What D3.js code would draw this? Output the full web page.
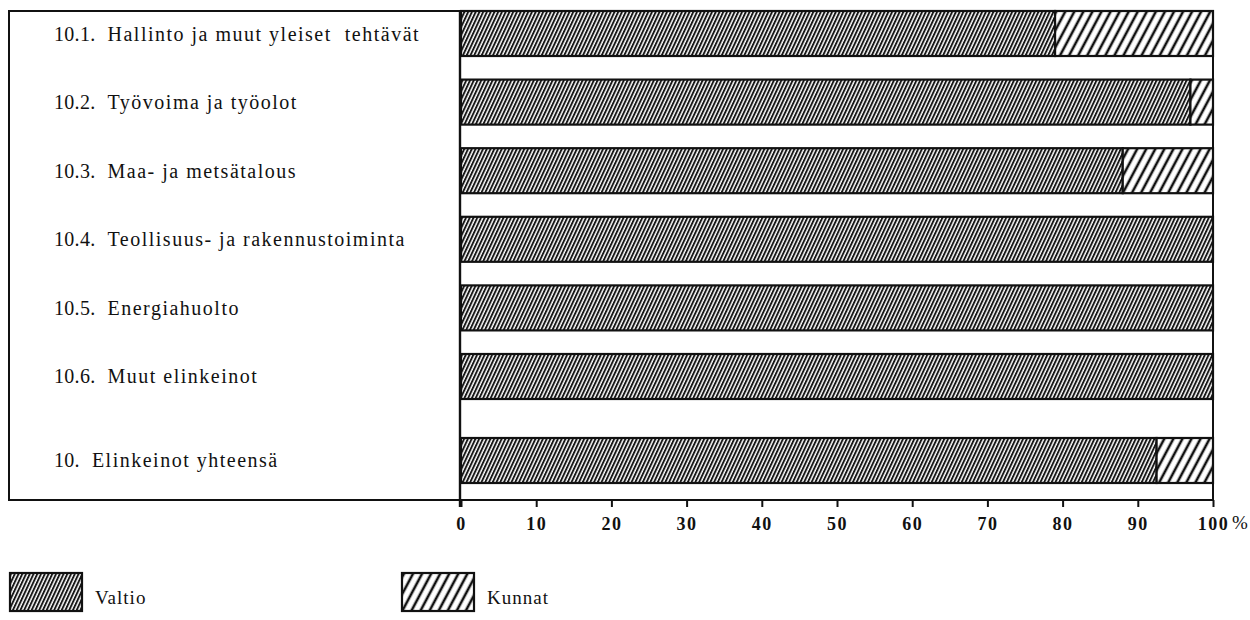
<!DOCTYPE html>
<html>
<head>
<meta charset="utf-8">
<script src="https://cdn.jsdelivr.net/npm/d3@7"></script>
<style>
  html, body { margin: 0; padding: 0; background: #fff; }
  svg { display: block; }
  text { font-family: "Liberation Serif", "Times New Roman", serif; fill: #111; }
</style>
</head>
<body>
<svg id="chart" width="1250" height="620"></svg>
<script>
// ---- data ----
const categories = [
  "10.1.  Hallinto ja muut yleiset  tehtävät",
  "10.2.  Työvoima ja työolot",
  "10.3.  Maa- ja metsätalous",
  "10.4.  Teollisuus- ja rakennustoiminta",
  "10.5.  Energiahuolto",
  "10.6.  Muut elinkeinot",
  "10.  Elinkeinot yhteensä"
];
const valtio = [79, 97, 88, 100, 100, 100, 92.5];
const kunnat = [21, 3, 12, 0, 0, 0, 7.5];
const seriesNames = ["Valtio", "Kunnat"];
const tickValues = [0, 10, 20, 30, 40, 50, 60, 70, 80, 90, 100];
const unitLabel = "%";

// ---- layout ----
const svg = d3.select("#chart");
const frame = { left: 9, top: 11, right: 1213, bottom: 500 };
const x = d3.scaleLinear().domain([0, 100]).range([461, 1213]);
const y = d3.scaleBand().domain(categories).range([11, 467.6]).paddingInner(0.344).paddingOuter(0);
const totalShift = 15.4;
const yPos = (c, i) => y(c) + (i === categories.length - 1 ? totalShift : 0);

// patterns
const defs = svg.append("defs");
const pV = defs.append("pattern").attr("id", "hatchValtio")
  .attr("patternUnits", "userSpaceOnUse").attr("width", 3.4).attr("height", 10)
  .attr("patternTransform", "rotate(25)");
pV.append("rect").attr("width", 3.4).attr("height", 10).attr("fill", "#fff");
pV.append("line").attr("x1", 1).attr("x2", 1).attr("y1", 0).attr("y2", 10)
  .attr("stroke", "#111").attr("stroke-width", 1.9);

const pK = defs.append("pattern").attr("id", "hatchKunnat")
  .attr("patternUnits", "userSpaceOnUse").attr("width", 8).attr("height", 10)
  .attr("patternTransform", "rotate(28)");
pK.append("rect").attr("width", 8).attr("height", 10).attr("fill", "#fff");
pK.append("line").attr("x1", 2).attr("x2", 2).attr("y1", 0).attr("y2", 10)
  .attr("stroke", "#111").attr("stroke-width", 2.6);

const fills = ["url(#hatchValtio)", "url(#hatchKunnat)"];

// frame
svg.append("rect")
  .attr("x", frame.left).attr("y", frame.top)
  .attr("width", frame.right - frame.left).attr("height", frame.bottom - frame.top)
  .attr("fill", "none").attr("stroke", "#111").attr("stroke-width", 2);

// bars
const rows = categories.map((c, i) => ({ c, i, v: valtio[i], k: kunnat[i] }));
const g = svg.append("g");
rows.forEach(r => {
  const top = yPos(r.c, r.i);
  const h = y.bandwidth();
  g.append("rect")
    .attr("x", x(0)).attr("y", top)
    .attr("width", x(r.v) - x(0)).attr("height", h)
    .attr("fill", fills[0]).attr("stroke", "#111").attr("stroke-width", 2.2);
  if (r.k > 0) {
    g.append("rect")
      .attr("x", x(r.v)).attr("y", top)
      .attr("width", x(r.v + r.k) - x(r.v)).attr("height", h)
      .attr("fill", fills[1]).attr("stroke", "#111").attr("stroke-width", 2.2);
  }
  // label: number prefix + name
  const m = r.c.match(/^(\S+)\s+(.*)$/);
  const pre = g.append("text")
    .attr("x", 54).attr("y", top + h / 2).attr("dy", "0.35em")
    .style("font-size", "20px").style("letter-spacing", "0.3px")
    .text(m[1]);
  const preEnd = 54 + pre.node().getComputedTextLength();
  g.append("text")
    .attr("x", preEnd + 12).attr("y", top + h / 2).attr("dy", "0.35em")
    .attr("xml:space", "preserve")
    .style("white-space", "pre")
    .style("font-size", "20px")
    .style("letter-spacing", "1.5px")
    .text(m[2]);
});

// zero axis vertical line
svg.append("line")
  .attr("x1", x(0) - 1).attr("x2", x(0) - 1)
  .attr("y1", frame.top).attr("y2", frame.bottom + 7)
  .attr("stroke", "#111").attr("stroke-width", 2.4);

// x axis
const axis = d3.axisBottom(x).tickValues(tickValues).tickSize(7).tickPadding(10)
  .tickFormat(d3.format("d"));
const ax = svg.append("g").attr("transform", `translate(0,${frame.bottom})`).call(axis);
ax.select(".domain").remove();
ax.selectAll(".tick line").attr("stroke", "#111").attr("stroke-width", 2);
ax.selectAll(".tick text")
  .style("font-family", "'Liberation Serif', serif")
  .style("font-size", "18px")
  .style("font-weight", "bold")
  .style("letter-spacing", "1.5px")
  .attr("fill", "#111");
svg.append("text")
  .attr("x", x(100) + 19).attr("y", frame.bottom + 16).attr("dy", "0.71em")
  .style("font-size", "19px")
  .text(unitLabel);

// legend
const legendX = [10, 402];
seriesNames.forEach((name, i) => {
  svg.append("rect")
    .attr("x", legendX[i]).attr("y", 573)
    .attr("width", 72).attr("height", 38)
    .attr("fill", fills[i]).attr("stroke", "#111").attr("stroke-width", 2.2);
  svg.append("text")
    .attr("x", legendX[i] + 85).attr("y", 597).attr("dy", "0.35em")
    .style("font-size", "19px").style("letter-spacing", "1px")
    .text(name);
});
</script>
</body>
</html>
